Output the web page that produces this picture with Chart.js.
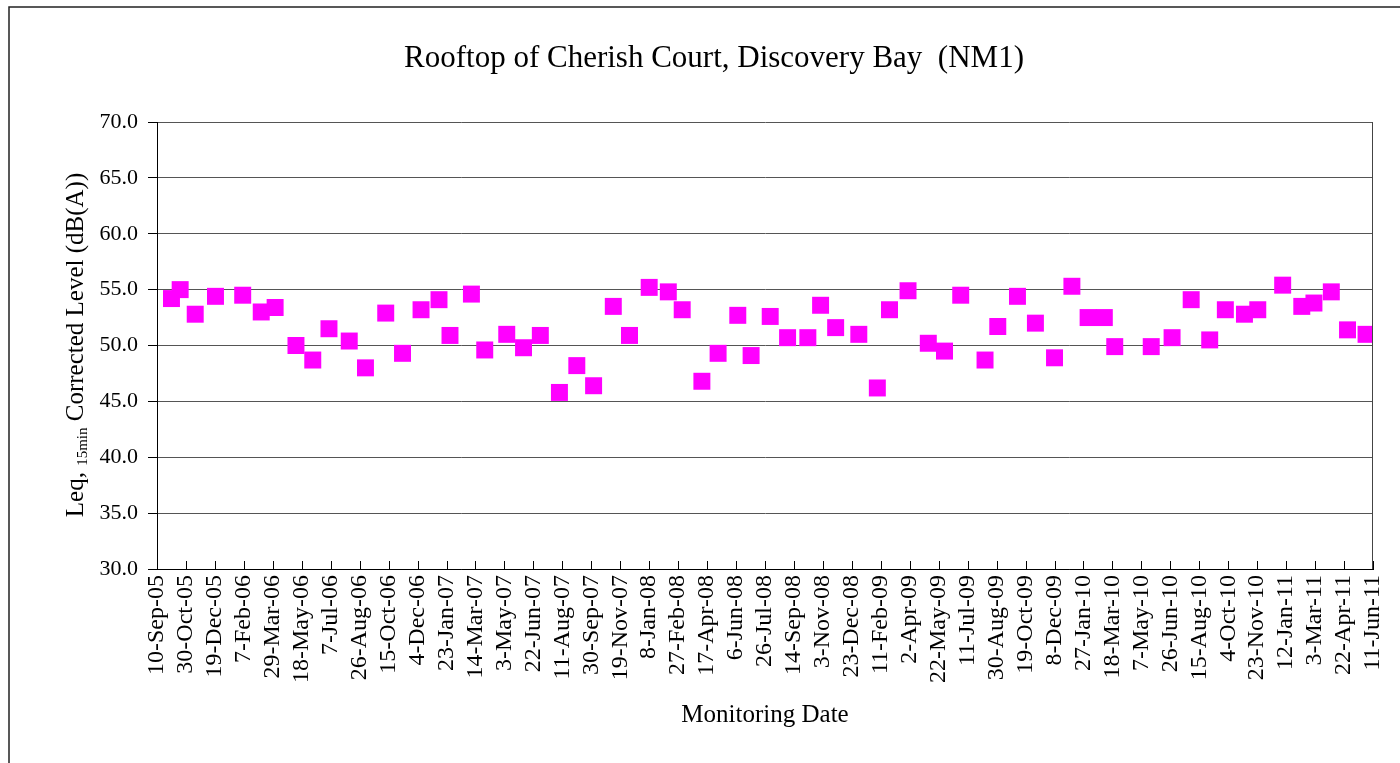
<!DOCTYPE html>
<html>
<head>
<meta charset="utf-8">
<script src="https://cdn.jsdelivr.net/npm/chart.js@4"></script>
<style>
  html, body { margin: 0; padding: 0; background: #fff; }
  #wrap { width: 1400px; height: 763px; position: relative; }
</style>
</head>
<body>
<div id="wrap"><canvas id="grafico" width="1400" height="763"></canvas></div>
<script>
// monitoring dates and Leq 15min levels, dB(A)
const dataInicio = '2005-09-10';
const dataFim = '2011-06-11';
const datasMonitoramento = [
  '2005-10-05', '2005-10-20', '2005-11-15', '2005-12-20', '2006-02-05', '2006-03-09', '2006-04-02',
  '2006-05-08', '2006-06-06', '2006-07-04', '2006-08-08', '2006-09-05', '2006-10-10', '2006-11-08',
  '2006-12-10', '2007-01-10', '2007-01-29', '2007-03-07', '2007-03-30', '2007-05-07', '2007-06-05',
  '2007-07-04', '2007-08-06', '2007-09-05', '2007-10-04', '2007-11-07', '2007-12-05', '2008-01-08',
  '2008-02-10', '2008-03-05', '2008-04-08', '2008-05-06', '2008-06-09', '2008-07-02', '2008-08-04',
  '2008-09-03', '2008-10-08', '2008-10-30', '2008-11-25', '2009-01-04', '2009-02-05', '2009-02-26',
  '2009-03-30', '2009-05-04', '2009-06-01', '2009-06-29', '2009-08-10', '2009-09-01', '2009-10-05',
  '2009-11-05', '2009-12-08', '2010-01-07', '2010-02-04', '2010-03-04', '2010-03-22', '2010-05-24',
  '2010-06-29', '2010-08-01', '2010-09-02', '2010-09-29', '2010-11-01', '2010-11-24', '2011-01-06',
  '2011-02-08', '2011-03-01', '2011-03-31', '2011-04-28', '2011-05-30'
];
const niveisLeq = [
  54.2, 55.0, 52.8, 54.4, 54.5, 53.0, 53.4,
  50.0, 48.7, 51.5, 50.4, 48.0, 52.9, 49.3,
  53.2, 54.1, 50.9, 54.6, 49.6, 51.0, 49.8,
  50.9, 45.8, 48.2, 46.4, 53.5, 50.9, 55.2,
  54.8, 53.2, 46.8, 49.3, 52.7, 49.1, 52.6,
  50.7, 50.7, 53.6, 51.6, 51.0, 46.2, 53.2,
  54.9, 50.2, 49.5, 54.5, 48.7, 51.7, 54.4,
  52.0, 48.9, 55.3, 52.5, 52.5, 49.9, 49.9,
  50.7, 54.1, 50.5, 53.2, 52.8, 53.2, 55.4,
  53.5, 53.8, 54.8, 51.4, 51.0
];
const meses = ['Jan', 'Feb', 'Mar', 'Apr', 'May', 'Jun', 'Jul', 'Aug', 'Sep', 'Oct', 'Nov', 'Dec'];
const passoDias = 50;
const limitesY = [30, 70];
const passoY = 5;

const fonte = '"Liberation Serif", "Times New Roman", serif';
const umDia = 86400000;

function diaDe(iso) {
  return Math.round((Date.parse(iso) - Date.parse(dataInicio)) / umDia);
}

function rotuloData(dia) {
  const d = new Date(Date.parse(dataInicio) + dia * umDia);
  return d.getUTCDate() + '-' + meses[d.getUTCMonth()] + '-' + String(d.getUTCFullYear()).slice(2);
}

const pontos = datasMonitoramento.map((iso, i) => ({ x: diaDe(iso), y: niveisLeq[i] }));

// titles, frame, inward x ticks and right edge of the plot
const extras = {
  id: 'extras',
  afterDraw(chart) {
    const ctx = chart.ctx;
    const area = chart.chartArea;
    const escalaX = chart.scales.x;
    ctx.save();

    // outer frame (top + left)
    ctx.strokeStyle = '#222';
    ctx.lineWidth = 1.5;
    ctx.beginPath();
    ctx.moveTo(9, 763);
    ctx.lineTo(9, 7);
    ctx.lineTo(1400, 7);
    ctx.stroke();

    // right edge of plot area
    ctx.strokeStyle = '#444';
    ctx.lineWidth = 1;
    ctx.beginPath();
    ctx.moveTo(area.right - 0.5, area.top);
    ctx.lineTo(area.right - 0.5, area.bottom);
    ctx.stroke();

    // x tick marks pointing inward
    ctx.strokeStyle = '#000';
    ctx.beginPath();
    escalaX.ticks.forEach(t => {
      const px = Math.round(escalaX.getPixelForValue(t.value)) + 0.5;
      ctx.moveTo(px, area.bottom);
      ctx.lineTo(px, area.bottom - 8);
    });
    ctx.stroke();

    // chart title
    ctx.fillStyle = '#000';
    ctx.font = '31px ' + fonte;
    ctx.textAlign = 'center';
    ctx.textBaseline = 'middle';
    ctx.fillText('Rooftop of Cherish Court, Discovery Bay  (NM1)', 714, 59);

    // y title with subscript
    const p1 = 'Leq, ';
    const sub = '15min';
    const p2 = ' Corrected Level (dB(A))';
    const fGrande = '25px ' + fonte;
    const fPeq = '15px ' + fonte;
    ctx.font = fGrande;
    const w1 = ctx.measureText(p1).width;
    const w3 = ctx.measureText(p2).width;
    ctx.font = fPeq;
    const w2 = ctx.measureText(sub).width;
    const total = w1 + w2 + w3;
    ctx.translate(75, 345);
    ctx.rotate(-Math.PI / 2);
    ctx.textAlign = 'left';
    ctx.textBaseline = 'alphabetic';
    let x = -total / 2;
    ctx.font = fGrande;
    ctx.fillText(p1, x, 8);
    x += w1;
    ctx.font = fPeq;
    ctx.fillText(sub, x, 12);
    x += w2;
    ctx.font = fGrande;
    ctx.fillText(p2, x, 8);

    ctx.restore();
  }
};

new Chart(document.getElementById('grafico'), {
  type: 'scatter',
  data: {
    datasets: [{
      label: 'NM1',
      data: pontos,
      pointStyle: 'rect',
      pointRadius: 12,
      pointHoverRadius: 12,
      backgroundColor: '#ff00ff',
      borderColor: '#ff00ff',
      borderWidth: 0
    }]
  },
  options: {
    responsive: false,
    animation: false,
    devicePixelRatio: 1,
    layout: { padding: { top: 122, right: 27, bottom: 0, left: 0 } },
    plugins: {
      legend: { display: false },
      title: { display: false },
      tooltip: { enabled: false }
    },
    scales: {
      x: {
        type: 'linear',
        min: 0,
        max: diaDe(dataFim),
        afterFit: s => {
          s.height = 194;
          s.paddingLeft = 0;
          s.paddingRight = 0;
        },
        afterBuildTicks: s => {
          s.ticks = [];
          for (let v = 0; v <= diaDe(dataFim); v += passoDias) s.ticks.push({ value: v });
        },
        grid: { display: false, drawTicks: false },
        border: { display: true, color: '#000', width: 1 },
        ticks: {
          autoSkip: false,
          maxRotation: 90,
          minRotation: 90,
          padding: 6,
          color: '#000',
          font: { family: fonte, size: 24 },
          callback: v => rotuloData(v)
        },
        title: {
          display: true,
          text: 'Monitoring Date',
          color: '#000',
          font: { family: fonte, size: 25 },
          padding: { top: 0, bottom: 33 }
        }
      },
      y: {
        min: limitesY[0],
        max: limitesY[1],
        afterFit: s => {
          s.width = 157;
          s.paddingTop = 0;
          s.paddingBottom = 0;
        },
        grid: { color: '#555', lineWidth: 1, tickLength: 9, tickColor: '#000' },
        border: { display: true, color: '#000', width: 1 },
        ticks: {
          stepSize: passoY,
          padding: 10,
          color: '#000',
          font: { family: fonte, size: 22 },
          callback: v => v.toFixed(1)
        }
      }
    }
  },
  plugins: [extras]
});
</script>
</body>
</html>
